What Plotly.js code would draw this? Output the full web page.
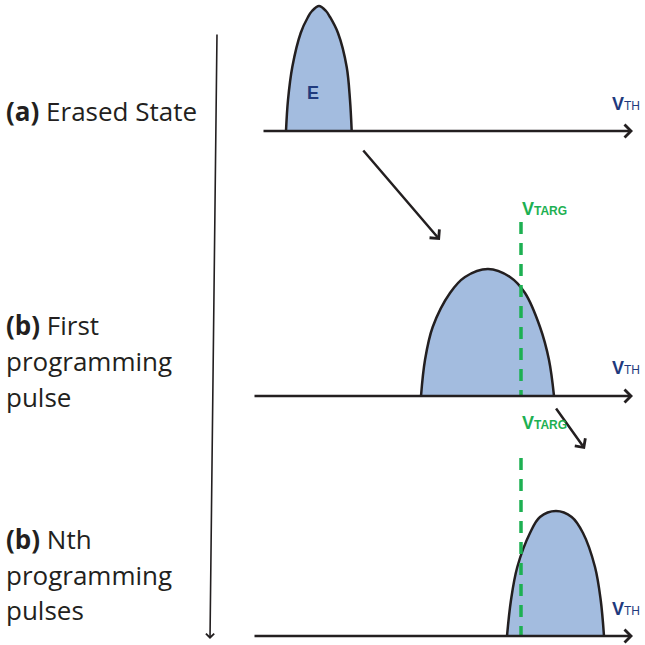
<!DOCTYPE html>
<html><head><meta charset="utf-8">
<script src="https://cdn.plot.ly/plotly-3.0.1.min.js"></script>
<style>html,body{margin:0;padding:0;background:#fff}#chart{width:645px;height:645px}</style>
</head><body><div id="chart"></div>
<script>
// Threshold-voltage distributions (VTH position, relative cell count)
const erasedVth = [286, 288, 292.3, 300.7, 308, 312, 319, 326, 330, 338, 346.7, 350, 351.7];
const erasedCnt = [0, 31, 64, 98, 114, 120, 125, 120, 114, 98, 64, 31, 0];
const firstVth  = [421, 425, 432.7, 450, 465, 488, 510, 525, 540, 549, 554];
const firstCnt  = [0, 36, 69, 103, 119, 127, 119, 103, 69, 36, 0];
const nthVth    = [507, 511, 517.3, 530, 540, 556, 571.7, 583, 595, 600.7, 604];
const nthCnt    = [0, 36, 69, 103, 119, 125, 119, 103, 69, 36, 0];
const stateLabelsA = ["<b>(a)</b> Erased State"];
const stateLabelsB = ["<b>(b)</b> First", "programming", "pulse"];
const stateLabelsC = ["<b>(b)</b> Nth", "programming", "pulses"];
const distLabel = "E";
const vthLabel = "<b>V</b><span style='font-size:12px'>TH</span>";
const vtargLabel = "<b>V</b><span style='font-size:12px'><b>TARG</b></span>";

const fillC = '#a3bcdf', edgeC = '#231f20', navy = '#1f3a7d', green = '#1db052', ink = '#231f20';
const W = 645, H = 645;
function dom(topPx, basePx){ return [1 - basePx/H, 1 - topPx/H]; }

function dist(x, y, ya){
  return {x: x, y: y, xaxis: 'x', yaxis: ya, mode: 'lines', fill: 'toself', fillcolor: fillC,
    line: {color: edgeC, width: 2.5, shape: 'spline', smoothing: 1}, hoverinfo: 'skip', showlegend: false};
}
const traces = [dist(erasedVth, erasedCnt, 'y2'), dist(firstVth, firstCnt, 'y3'), dist(nthVth, nthCnt, 'y4')];

const hid = {visible: false, fixedrange: true};
const layout = {
  width: W, height: H, margin: {l: 0, r: 0, t: 0, b: 0},
  paper_bgcolor: '#fff', plot_bgcolor: 'rgba(0,0,0,0)', showlegend: false,
  xaxis: Object.assign({range: [0, W], domain: [0, 1]}, hid),
  yaxis: Object.assign({range: [H, 0], domain: [0, 1]}, hid),
  yaxis2: Object.assign({range: [0, 131], domain: dom(0, 131), anchor: 'x'}, hid),
  yaxis3: Object.assign({range: [0, 146], domain: dom(250, 396), anchor: 'x'}, hid),
  yaxis4: Object.assign({range: [0, 146], domain: dom(490, 636), anchor: 'x'}, hid),
  shapes: [
    {type: 'line', xref: 'x', yref: 'y', x0: 521, x1: 521, y0: 222, y1: 396, layer: 'above',
      line: {color: green, width: 3.5, dash: '12px,9px'}},
    {type: 'line', xref: 'x', yref: 'y', x0: 521, x1: 521, y0: 458, y1: 636, layer: 'above',
      line: {color: green, width: 3.5, dash: '12px,9px'}}
  ],
  annotations: []
};
function arrow(x0, y0, x1, y1, w){
  layout.annotations.push({xref: 'x', yref: 'y', axref: 'x', ayref: 'y', x: x1, y: y1, ax: x0, ay: y0,
    text: '', showarrow: true, arrowhead: 4, arrowsize: 1, arrowwidth: w, arrowcolor: edgeC, standoff: 0, startstandoff: 0});
}
arrow(262, 131, 633, 131, 2.5);
arrow(253, 396, 633, 396, 2.5);
arrow(253, 636, 633, 636, 2.5);
arrow(217, 33, 210, 639, 1.6);
arrow(362, 149, 440, 240, 2.5);
arrow(555, 407, 585, 449, 2.5);

function txt(x, y, t, size, color, xa, fam){
  layout.annotations.push({xref: 'x', yref: 'y', x: x, y: y, text: t, showarrow: false, xanchor: xa || 'left',
    yanchor: 'middle', align: 'left', font: {family: fam || '"Open Sans", sans-serif', size: size, color: color}});
}
const lblFont = '"Open Sans", sans-serif', symFont = '"Liberation Sans", Arial, sans-serif';
txt(4, 111, stateLabelsA[0], 26, ink, 'left', lblFont);
[325, 361, 397].forEach((y, i) => txt(4, y, stateLabelsB[i], 26, ink, 'left', lblFont));
[539, 575, 610].forEach((y, i) => txt(4, y, stateLabelsC[i], 26, ink, 'left', lblFont));
txt(313, 93, '<b>' + distLabel + '</b>', 18, navy, 'center', symFont);
txt(610, 104, vthLabel, 18, navy, 'left', symFont);
txt(610, 368, vthLabel, 18, navy, 'left', symFont);
txt(610, 609, vthLabel, 18, navy, 'left', symFont);
txt(520, 209, vtargLabel, 18, green, 'left', symFont);
txt(520, 423, vtargLabel, 18, green, 'left', symFont);

Plotly.newPlot('chart', traces, layout, {displayModeBar: false, staticPlot: true});
</script></body></html>
